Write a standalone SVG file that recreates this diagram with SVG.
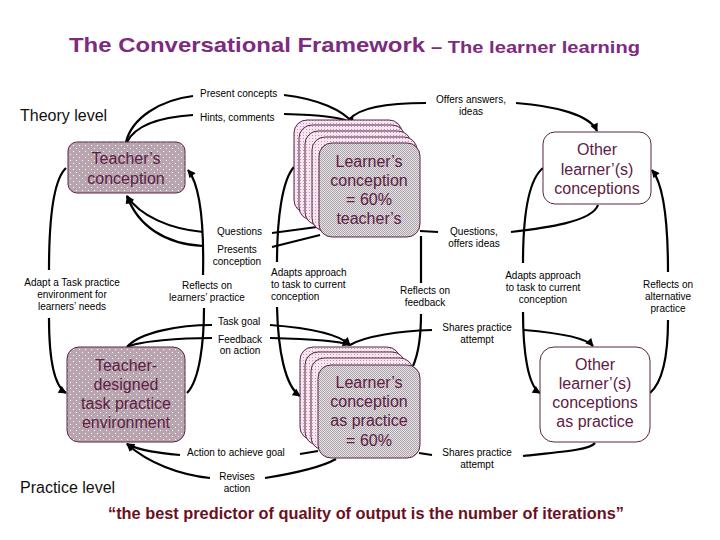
<svg xmlns="http://www.w3.org/2000/svg" width="720" height="540" viewBox="0 0 720 540">
<style>
.lbl{font-family:"Liberation Sans",Arial,sans-serif;font-size:10px;fill:#000}
.lc{text-anchor:middle}
.node{font-family:"Liberation Sans",Arial,sans-serif;font-size:16px;fill:#5E2044;text-anchor:middle}
.edge{fill:none;stroke:#000;stroke-width:2.2}
.arr{marker-end:url(#ah)}
.box{stroke:#5A2446;stroke-width:1}
.lvl{font-family:"Liberation Sans",Arial,sans-serif;font-size:16px;fill:#111}
</style>
<defs>
<marker id="ah" viewBox="0 0 10 10" refX="9" refY="5" markerWidth="9" markerHeight="8" markerUnits="userSpaceOnUse" orient="auto">
<path d="M0,0 L10,5 L0,10 z" fill="#000"/>
</marker>
<pattern id="tdots" width="6" height="6" patternUnits="userSpaceOnUse">
<rect width="6" height="6" fill="#B8A5AF"/>
<rect x="1" y="1" width="1" height="1" fill="#fff"/>
<rect x="4" y="4" width="1" height="1" fill="#fff"/>
</pattern>
<pattern id="pdots" width="3" height="3" patternUnits="userSpaceOnUse">
<rect width="3" height="3" fill="#F7E6F1"/>
<rect x="0" y="0" width="1" height="1" fill="#B99AAE"/>
</pattern>
<pattern id="gcheck" width="2" height="2" patternUnits="userSpaceOnUse">
<rect width="2" height="2" fill="#E6E2E6"/>
<rect x="0" y="0" width="1" height="1" fill="#ABA5AB"/>
<rect x="1" y="1" width="1" height="1" fill="#ABA5AB"/>
</pattern>
</defs>
<rect width="720" height="540" fill="#fff"/>

<g id="title">
<text x="69" y="52" font-family="'Liberation Sans',Arial,sans-serif" font-size="21" font-weight="bold" fill="#7E2A7E" textLength="356" lengthAdjust="spacingAndGlyphs">The Conversational Framework</text>
<text x="431" y="53" font-family="'Liberation Sans',Arial,sans-serif" font-size="17" font-weight="bold" fill="#7E2A7E" textLength="209" lengthAdjust="spacingAndGlyphs">– The learner learning</text>
</g>
<text class="lvl" x="20" y="121">Theory level</text>
<text class="lvl" x="20" y="493">Practice level</text>

<g id="connectors">
<path class="edge" d="M126,142 C132,118 160,100 193,96"/>
<path class="edge arr" d="M284,95 C318,99 343,110 354,124"/>
<path class="edge" d="M127,142 C136,124 162,117 193,115"/>
<path class="edge arr" d="M284,114 C318,115 344,117 354,124"/>
<path class="edge" d="M350,119 C360,107 390,103 426,103"/>
<path class="edge arr" d="M516,103 C556,106 590,115 597,131"/>
<path class="edge arr" d="M203,232 C170,229 140,216 127,196"/>
<path class="edge" d="M272,233 L317,227"/>
<path class="edge arr" d="M203,246 C165,244 138,226 127,196"/>
<path class="edge" d="M272,247 L320,235"/>
<path class="edge" d="M66,168 C53,180 49,220 49,270"/>
<path class="edge arr" d="M49,318 C49,360 54,386 66,393"/>
<path class="edge" d="M187,393 C200,380 204,340 204,308"/>
<path class="edge arr" d="M203,275 C204,230 201,186 188,170"/>
<path class="edge" d="M294,167 C282,180 277,220 277,262"/>
<path class="edge arr" d="M277,307 C278,350 285,386 300,396"/>
<path class="edge" d="M413,366 C420,350 421,330 421,314"/>
<path class="edge" d="M421,283 C421,265 421,250 421,236"/>
<path class="edge" d="M420,231 L438,232"/>
<path class="edge" d="M511,232 C545,228 592,222 598,205"/>
<path class="edge" d="M543,168 C528,180 523,220 523,263"/>
<path class="edge arr" d="M523,312 C523,352 528,386 540,393"/>
<path class="edge" d="M650,393 C665,380 668,350 668,320"/>
<path class="edge arr" d="M668,272 C668,230 665,186 652,170"/>
<path class="edge" d="M127,347 C140,332 180,325 212,325"/>
<path class="edge arr" d="M270,325 C310,328 340,335 350,345"/>
<path class="edge" d="M127,347 C140,341 180,338 212,338"/>
<path class="edge arr" d="M270,338 C310,339 340,341 350,345"/>
<path class="edge" d="M350,345 C365,336 400,331 432,330"/>
<path class="edge arr" d="M524,330 C560,333 586,338 593,346"/>
<path class="edge arr" d="M180,455 C160,453 140,451 127,444"/>
<path class="edge" d="M300,454 L318,451"/>
<path class="edge arr" d="M210,478 C180,475 148,463 127,444"/>
<path class="edge" d="M265,478 C290,474 320,468 336,459"/>
<path class="edge" d="M419,453 L432,455"/>
<path class="edge" d="M523,456 C560,452 590,450 595,443"/>
</g>

<g id="labels">
<text class="lbl" x="200" y="97">Present concepts</text>
<text class="lbl" x="200" y="121">Hints, comments</text>
<text class="lbl lc" x="471" y="103">Offers answers,</text>
<text class="lbl lc" x="471" y="115">ideas</text>
<text class="lbl" x="217" y="235">Questions</text>
<text class="lbl lc" x="237" y="253">Presents</text>
<text class="lbl lc" x="237" y="265">conception</text>
<text class="lbl" x="271" y="276">Adapts approach</text>
<text class="lbl" x="271" y="288">to task to current</text>
<text class="lbl" x="271" y="300">conception</text>
<text class="lbl lc" x="72" y="286">Adapt a Task practice</text>
<text class="lbl lc" x="72" y="298">environment for</text>
<text class="lbl lc" x="72" y="310">learners’ needs</text>
<text class="lbl lc" x="207" y="289">Reflects on</text>
<text class="lbl lc" x="207" y="301">learners’ practice</text>
<text class="lbl lc" x="425" y="294">Reflects on</text>
<text class="lbl lc" x="425" y="306">feedback</text>
<text class="lbl lc" x="474" y="235">Questions,</text>
<text class="lbl lc" x="474" y="247">offers ideas</text>
<text class="lbl lc" x="543" y="279">Adapts approach</text>
<text class="lbl lc" x="543" y="291">to task to current</text>
<text class="lbl lc" x="543" y="303">conception</text>
<text class="lbl lc" x="668" y="288">Reflects on</text>
<text class="lbl lc" x="668" y="300">alternative</text>
<text class="lbl lc" x="668" y="312">practice</text>
<text class="lbl" x="218" y="325">Task goal</text>
<text class="lbl lc" x="240" y="343">Feedback</text>
<text class="lbl lc" x="240" y="354">on action</text>
<text class="lbl lc" x="477" y="331">Shares practice</text>
<text class="lbl lc" x="477" y="343">attempt</text>
<text class="lbl" x="187" y="456">Action to achieve goal</text>
<text class="lbl lc" x="477" y="456">Shares practice</text>
<text class="lbl lc" x="477" y="468">attempt</text>
<text class="lbl lc" x="237" y="480">Revises</text>
<text class="lbl lc" x="237" y="492">action</text>
</g>

<g id="teacher-conception">
<rect class="box" x="68" y="142" width="117" height="51" rx="9" fill="url(#tdots)"/>
<text class="node" x="126" y="164">Teacher’s</text>
<text class="node" x="126" y="184">conception</text>
</g>

<g id="learner-conception">
<rect class="box" x="294" y="120" width="108" height="93" rx="13" fill="url(#pdots)"/>
<rect class="box" x="299" y="125" width="106" height="95" rx="13" fill="url(#pdots)"/>
<rect class="box" x="305" y="131" width="106" height="94" rx="13" fill="url(#pdots)"/>
<rect class="box" x="312" y="137" width="105" height="94" rx="13" fill="url(#pdots)"/>
<rect class="box" x="319" y="143" width="101" height="94" rx="13" fill="url(#gcheck)"/>
<text class="node" x="369" y="167">Learner’s</text>
<text class="node" x="369" y="186">conception</text>
<text class="node" x="369" y="205">= 60%</text>
<text class="node" x="369" y="224">teacher’s</text>
</g>

<g id="other-conceptions">
<rect class="box" x="543" y="132" width="108" height="72" rx="12" fill="#fff"/>
<text class="node" x="597" y="155">Other</text>
<text class="node" x="597" y="175">learner’(s)</text>
<text class="node" x="597" y="194">conceptions</text>
</g>

<g id="teacher-environment">
<rect class="box" x="67" y="347" width="118" height="95" rx="12" fill="url(#tdots)"/>
<text class="node" x="126" y="371">Teacher-</text>
<text class="node" x="126" y="390">designed</text>
<text class="node" x="126" y="409">task practice</text>
<text class="node" x="126" y="428">environment</text>
</g>

<g id="learner-practice">
<rect class="box" x="300" y="347" width="100" height="93" rx="13" fill="url(#pdots)"/>
<rect class="box" x="305" y="352" width="100" height="93" rx="13" fill="url(#pdots)"/>
<rect class="box" x="311" y="358" width="102" height="92" rx="13" fill="url(#pdots)"/>
<rect class="box" x="318" y="365" width="102" height="93" rx="13" fill="url(#gcheck)"/>
<text class="node" x="369" y="388">Learner’s</text>
<text class="node" x="369" y="407">conception</text>
<text class="node" x="369" y="426">as practice</text>
<text class="node" x="369" y="446">= 60%</text>
</g>

<g id="other-practice">
<rect class="box" x="540" y="347" width="110" height="95" rx="14" fill="#fff"/>
<text class="node" x="595" y="370">Other</text>
<text class="node" x="595" y="389">learner’(s)</text>
<text class="node" x="595" y="408">conceptions</text>
<text class="node" x="595" y="427">as practice</text>
</g>

<text x="108" y="519" font-family="'Liberation Sans',Arial,sans-serif" font-size="17" font-weight="bold" fill="#6B1020" textLength="516" lengthAdjust="spacingAndGlyphs">“the best predictor of quality of output is the number of iterations”</text>
</svg>
